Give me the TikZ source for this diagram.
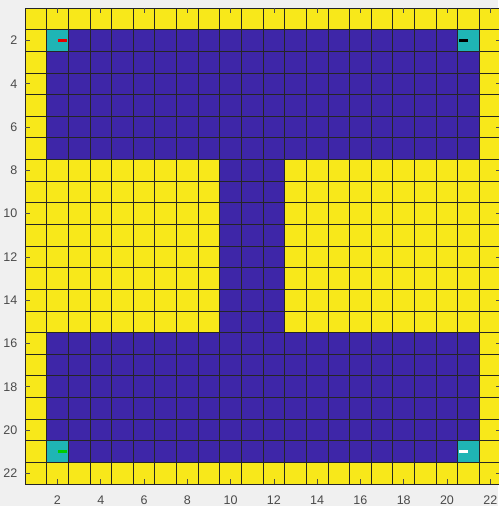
\documentclass[tikz,border=0pt]{standalone}
\usepackage{fontspec}
\setmainfont{Liberation Sans}
\definecolor{figbg}{HTML}{F0F0F0}
\definecolor{pyellow}{HTML}{F8E81A}
\definecolor{pblue}{HTML}{3E26A8}
\definecolor{pcyan}{HTML}{1FB5B5}
\definecolor{axgray}{HTML}{4A4A4A}
\tikzset{
  gridline/.style={draw=black!85, line width=0.8pt},
  tickmark/.style={draw=axgray, line width=0.6pt},
  ticklabel/.style={font=\fontsize{12.5}{12.5}\selectfont, text=axgray, inner sep=0pt},
  marker/.style={line width=2.6pt},
}
\begin{document}
\begin{tikzpicture}
\useasboundingbox (0,0) rectangle (498pt,-506pt);
\fill[figbg] (0,0) rectangle (498pt,-506pt);
\begin{scope}[shift={(14.18pt,2.82pt)}, x=21.64pt, y=-21.64pt]
  % yellow background
  \fill[pyellow] (0.5,0.5) rectangle (22.5,22.5);
  % blue regions
  \fill[pblue] (1.5,1.5) rectangle (21.5,7.5);
  \fill[pblue] (9.5,7.5) rectangle (12.5,15.5);
  \fill[pblue] (1.5,15.5) rectangle (21.5,21.5);
  % cyan corner cells
  \foreach \c/\r in {2/2,21/2,2/21,21/21}
    \fill[pcyan] (\c-0.5,\r-0.5) rectangle (\c+0.5,\r+0.5);
  % grid
  \foreach \k in {0.5,1.5,...,22.5} {
    \draw[gridline] (\k,0.5) -- (\k,22.5);
    \draw[gridline] (0.5,\k) -- (22.5,\k);
  }
  % ticks and labels
  \foreach \t in {2,4,...,22} {
    \draw[tickmark] (\t,22.5) -- (\t,22.28);
    \draw[tickmark] (\t,0.5) -- (\t,0.72);
    \draw[tickmark] (0.5,\t) -- (0.72,\t);
    \draw[tickmark] (22.5,\t) -- (22.28,\t);
    \node[ticklabel, anchor=north] (xl\t) at (\t,23.05) {\t};
    \node[ticklabel, anchor=east] (yl\t) at (0.15,\t) {\t};
  }
  % markers
  \draw[marker, red!90!black] (2.03,2) -- (2.45,2);
  \draw[marker, black] (20.55,2) -- (20.98,2);
  \draw[marker, green!80!black] (2.03,21) -- (2.45,21);
  \draw[marker, white] (20.55,21) -- (20.98,21);
\end{scope}
\end{tikzpicture}
\end{document}
